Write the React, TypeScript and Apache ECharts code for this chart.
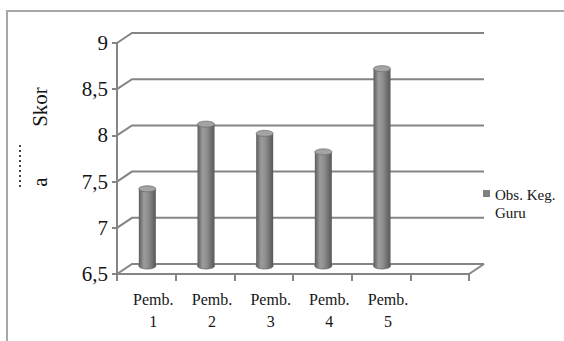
import React, { useEffect, useRef } from "react";
import * as echarts from "echarts";

const categories = ["Pemb.\n1", "Pemb.\n2", "Pemb.\n3", "Pemb.\n4", "Pemb.\n5", ""];
const scores = [7.4, 8.1, 8.0, 7.8, 8.7];
const yTicks = [6.5, 7, 7.5, 8, 8.5, 9];
const seriesName = "Obs. Keg. Guru";

const FONT = "Liberation Serif";
// depth of the pseudo-3D back wall
const DX = 15;
const DY = -10;
const Y_MIN = 6.5;

export default function App() {
  const ref = useRef<HTMLDivElement>(null);

  useEffect(() => {
    if (!ref.current) return;
    const chart = echarts.init(ref.current, undefined, { renderer: "svg" });

    const gridColor = "#858585";
    const textColor = "#151515";

    const option: any = {
      animation: false,
      backgroundColor: "#ffffff",
      textStyle: { fontFamily: FONT },
      grid: { left: 117, right: 95, top: 43, bottom: 67, containLabel: false },
      legend: {
        show: true,
        left: 478,
        top: 181,
        data: [seriesName],
        // square swatch sitting beside the first text line
        icon: "path://M0 0H7V7H0Z M0 28H7",
        itemWidth: 7,
        itemHeight: 28,
        itemGap: 0,
        itemStyle: { borderWidth: 0 },
        formatter: () => "Obs. Keg.\nGuru",
        textStyle: {
          fontFamily: FONT,
          fontSize: 15,
          lineHeight: 18,
          color: textColor,
        },
      },
      xAxis: {
        type: "category",
        data: categories,
        boundaryGap: true,
        axisLine: { show: true, lineStyle: { color: gridColor, width: 2 } },
        axisTick: { show: true, length: 7, interval: 0, lineStyle: { color: gridColor, width: 2 } },
        axisLabel: {
          interval: 0,
          fontFamily: FONT,
          fontSize: 16,
          lineHeight: 22,
          color: textColor,
          margin: 14,
          padding: [0, 0, 0, 14],
        },
        splitLine: { show: false },
      },
      yAxis: {
        type: "value",
        min: 6.5,
        max: 9,
        interval: 0.5,
        axisLine: { show: true, lineStyle: { color: gridColor, width: 2 } },
        axisTick: { show: true, length: 5, lineStyle: { color: gridColor, width: 2 } },
        axisLabel: {
          fontFamily: FONT,
          fontSize: 21,
          color: textColor,
          margin: 9,
          formatter: (v: number) => String(v).replace(".", ","),
        },
        splitLine: { show: false },
      },
      graphic: [
        {
          type: "rect",
          shape: { x: 7, y: 11, width: 640, height: 420 },
          style: { fill: "none", stroke: "#a8a8a8", lineWidth: 2 },
          silent: true,
        },
        {
          type: "polyline",
          shape: { points: [[20, 145], [20, 190]] },
          style: { stroke: "#444", lineWidth: 2, lineDash: [2, 3], fill: "none" },
          silent: true,
        },
        {
          type: "text",
          x: 40,
          y: 107,
          rotation: Math.PI / 2,
          style: {
            text: "Skor",
            fontFamily: FONT,
            fontSize: 21,
            fill: textColor,
            align: "center",
            verticalAlign: "middle",
          },
        },
        {
          type: "text",
          x: 40,
          y: 182,
          rotation: Math.PI / 2,
          style: {
            text: "a",
            fontFamily: FONT,
            fontSize: 21,
            fill: textColor,
            align: "center",
            verticalAlign: "middle",
          },
        },
      ],
      series: [
        {
          // back wall gridlines with their diagonal connectors, and the floor
          type: "custom",
          name: "walls",
          coordinateSystem: "cartesian2d",
          clip: false,
          silent: true,
          z: 1,
          data: yTicks.map((v) => [0, v]),
          encode: { x: 0, y: 1 },
          renderItem: (params: any, api: any) => {
            const v = api.value(1);
            const band = api.size([1, 0])[0];
            const left = api.coord([0, v]);
            const right = api.coord([categories.length - 1, v]);
            const x0 = left[0] - band / 2;
            const x1 = right[0] + band / 2;
            const y = left[1];
            const children: any[] = [
              {
                type: "polyline",
                shape: {
                  points: [
                    [x0, y],
                    [x0 + DX, y + DY],
                    [x1 + DX, y + DY],
                  ],
                },
                style: { stroke: gridColor, lineWidth: 2, fill: "none" },
              },
            ];
            if (v === Y_MIN) {
              children.push({
                type: "line",
                shape: { x1: x1, y1: y, x2: x1 + DX, y2: y + DY },
                style: { stroke: gridColor, lineWidth: 2 },
              });
            }
            return { type: "group", children };
          },
        },
        {
          // cylinder columns
          type: "custom",
          name: seriesName,
          coordinateSystem: "cartesian2d",
          clip: false,
          z: 2,
          itemStyle: { color: "#808080" },
          data: scores.map((s, i) => [i, s]),
          encode: { x: 0, y: 1 },
          renderItem: (params: any, api: any) => {
            const i = api.value(0);
            const v = api.value(1);
            const top = api.coord([i, v]);
            const base = api.coord([i, Y_MIN]);
            const cx = top[0] + 1;
            const rx = 8.5;
            const ry = 3;
            const yt = top[1] + DY / 2 + ry;
            const yb = base[1] + DY / 2 - ry;
            const body = new echarts.graphic.LinearGradient(0, 0, 1, 0, [
              { offset: 0, color: "#5c5c5c" },
              { offset: 0.3, color: "#9c9c9c" },
              { offset: 0.55, color: "#8e8e8e" },
              { offset: 1, color: "#575757" },
            ]);
            return {
              type: "group",
              children: [
                {
                  type: "ellipse",
                  shape: { cx, cy: yb, rx, ry },
                  style: { fill: body, stroke: "#6a6a6a", lineWidth: 0.8 },
                },
                {
                  type: "rect",
                  shape: { x: cx - rx, y: yt, width: rx * 2, height: yb - yt },
                  style: { fill: body },
                },
                {
                  type: "ellipse",
                  shape: { cx, cy: yt, rx, ry },
                  style: { fill: "#a4a4a4", stroke: "#707070", lineWidth: 0.8 },
                },
              ],
            };
          },
        },
      ],
    };

    chart.setOption(option);
    return () => chart.dispose();
  }, []);

  return (
    <div
      ref={ref}
      style={{ position: "fixed", left: 0, top: 0, width: 564, height: 341, background: "#fff" }}
    />
  );
}
